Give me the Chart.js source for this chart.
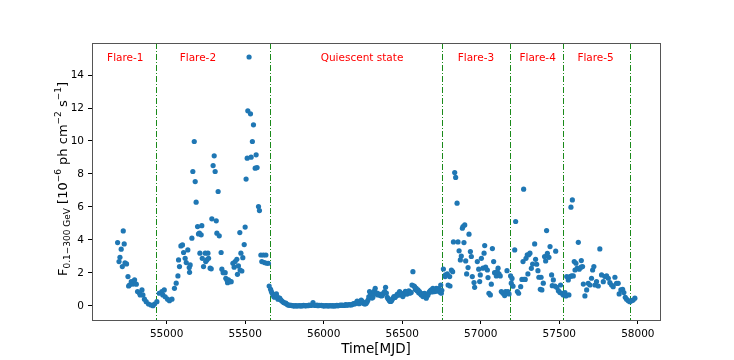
<!DOCTYPE html>
<html>
<head>
<meta charset="utf-8">
<script src="https://cdn.jsdelivr.net/npm/chart.js@4.4.1/dist/chart.umd.min.js"></script>
<style>
  html, body { margin: 0; padding: 0; background: #fff; }
  #wrap { width: 734px; height: 360px; }
</style>
</head>
<body>
<div id="wrap"><canvas id="myChart" width="734" height="360"></canvas></div>
<script>
// light curve (MJD, flux in 1e-6 ph cm^-2 s^-1)
const mjd = [
  54688, 54697, 54703, 54711, 54718, 54724, 54730, 54735, 54745, 54754, 54758, 54764, 54775, 54786, 54796, 54807,
  54815, 54828, 54832, 54843, 54849, 54859, 54870, 54885, 54900, 54913, 54923, 54938,
  54953, 54970, 54976, 54985, 54991, 55006, 55018, 55034, 55050, 55061, 55072, 55076, 55082, 55091, 55101, 55108,
  55118, 55125, 55135, 55144, 55146, 55150, 55161, 55167, 55176, 55182, 55188, 55197, 55203, 55209, 55220, 55224,
  55212, 55227, 55235, 55246, 55249, 55256, 55263, 55267, 55277, 55284, 55288, 55296, 55303, 55309, 55316, 55320,
  55328, 55335, 55347, 55352, 55360, 55373, 55377, 55384, 55388, 55394, 55403, 55411, 55422, 55430, 55436, 55447,
  55451, 55457, 55466, 55468, 55473, 55479, 55485, 55494, 55500, 55506, 55513, 55517, 55525, 55534, 55538, 55546,
  55553, 55564, 55570, 55576, 55585, 55591, 55600, 55606, 55616, 55623, 55632, 55638, 55648, 55653,
  55662, 55667, 55672, 55678, 55683, 55688, 55694, 55699, 55704, 55709, 55715, 55720, 55725, 55731, 55738, 55745,
  55752, 55759, 55766, 55773, 55780, 55787, 55794, 55801, 55808, 55815, 55822, 55829, 55837, 55844, 55851, 55858,
  55865, 55872, 55879, 55886, 55893, 55900, 55907, 55914, 55921, 55928, 55932, 55938, 55943, 55950, 55957, 55964,
  55971, 55978, 55985, 55992, 55999, 56006, 56013, 56020, 56027, 56034, 56041, 56049, 56056, 56063, 56070, 56077,
  56084, 56091, 56098, 56105, 56112, 56119, 56126, 56133, 56140, 56147, 56155, 56162, 56169, 56176, 56183, 56190,
  56197, 56203, 56208, 56213, 56218, 56225, 56232, 56239, 56245, 56250, 56256, 56261, 56266, 56271, 56277, 56282,
  56287, 56292, 56298, 56303, 56308, 56313, 56318, 56323, 56328, 56335, 56340, 56345, 56350, 56356, 56361, 56367,
  56372, 56377, 56383, 56388, 56394, 56399, 56405, 56409, 56413, 56418, 56422, 56426, 56430, 56434, 56440, 56447,
  56454, 56462, 56468, 56473, 56478, 56483, 56488, 56494, 56499, 56504, 56510, 56515, 56520, 56526, 56531, 56536,
  56542, 56547, 56552, 56557, 56562, 56568, 56573, 56579, 56584, 56589, 56594, 56600, 56605, 56610, 56616, 56621,
  56626, 56632, 56637, 56642, 56648, 56653, 56658, 56664, 56669, 56674, 56680, 56685, 56690, 56695, 56700, 56706,
  56711, 56717, 56722, 56727, 56732, 56738, 56743, 56745, 56749, 56752,
  56762, 56773, 56775, 56787, 56792, 56802, 56804, 56813, 56821, 56826, 56834, 56840, 56849, 56855, 56862, 56870,
  56876, 56883, 56887, 56893, 56898, 56904, 56910, 56919, 56925, 56934, 56940, 56946, 56957, 56961, 56978, 56987,
  56993, 56997, 57004, 57014, 57021, 57025, 57031, 57042, 57046, 57052, 57061, 57067, 57074, 57082, 57088, 57099,
  57105, 57110, 57116, 57124, 57131, 57141, 57152, 57158, 57167, 57173, 57180,
  57190, 57194, 57199, 57205, 57216, 57222, 57233, 57241, 57254, 57262, 57269, 57273, 57275, 57283, 57288, 57296,
  57300, 57305, 57313, 57322, 57330, 57343, 57349, 57356, 57364, 57370, 57379, 57384, 57389, 57398, 57406, 57413,
  57419, 57424, 57434, 57441, 57451, 57455, 57462, 57472, 57477, 57483, 57494, 57504, 57508, 57517,
  57525, 57536, 57542, 57547, 57557, 57561, 57568, 57574, 57578, 57583, 57589, 57595, 57600, 57606, 57614, 57621,
  57627, 57638, 57640, 57648, 57653, 57663, 57674, 57684, 57695, 57705, 57712, 57720, 57727, 57737, 57748, 57758,
  57769, 57780, 57790, 57801, 57812, 57822, 57833, 57843, 57854, 57864, 57875, 57881, 57892, 57903, 57911, 57920,
  57928, 57939, 57949, 57960, 57970, 57981
];
const flux = [
  3.84, 2.69, 2.95, 3.44, 2.39, 4.55, 3.76, 2.61, 2.55, 1.78, 1.21, 1.27, 1.47, 1.33, 1.58, 1.32,
  0.87, 0.77, 0.67, 0.97, 0.67, 0.41, 0.26, 0.12, 0.06, 0.02, 0.12, 0.26,
  0.77, 0.87, 0.67, 0.97, 0.56, 0.41, 0.32, 0.41, 1.07, 1.38, 1.82, 2.79, 2.39, 3.64, 3.70, 3.24,
  2.89, 2.63, 3.40, 2.33, 2.04, 2.49, 4.11, 8.15, 9.97, 7.54, 6.29, 4.81, 4.37, 4.41, 4.31, 4.87,
  3.20, 2.89, 2.39, 3.20, 2.69, 2.79, 3.20, 2.89, 2.29, 2.25, 5.28, 8.51, 9.10, 8.15, 5.16, 4.41,
  6.94, 4.25, 3.24, 2.23, 2.02, 2.02, 1.68, 1.58, 1.41, 1.58, 1.47, 1.47, 2.59, 2.35, 2.69, 2.83,
  1.92, 2.43, 4.45, 2.18, 3.20, 2.12, 2.93, 3.72, 4.78, 7.69, 8.96, 11.83, 15.09, 11.65, 9.02, 9.97,
  10.98, 8.35, 9.16, 8.39, 6.03, 5.78, 3.09, 2.69, 3.09, 2.63, 3.09, 2.59, 2.59, 1.21,
  1.01, 0.87, 0.77, 0.67, 0.56, 0.53, 0.67, 0.73, 0.57, 0.41, 0.45, 0.47, 0.38, 0.33, 0.27, 0.21,
  0.18, 0.17, 0.10, 0.06, 0.05, 0.04, 0.04, 0.02, 0.01, 0.00, 0.02, 0.01, 0.00, 0.03, 0.01, 0.00,
  0.02, 0.04, 0.02, 0.01, 0.03, 0.02, 0.05, 0.03, 0.04, 0.08, 0.20, 0.06, 0.04, 0.03, 0.05, 0.02,
  0.04, 0.03, 0.04, 0.02, 0.01, 0.00, 0.03, 0.02, 0.00, 0.01, 0.03, 0.00, 0.02, 0.01, 0.00, 0.02,
  0.04, 0.01, 0.03, 0.05, 0.04, 0.06, 0.03, 0.04, 0.08, 0.05, 0.06, 0.09, 0.07, 0.06, 0.10, 0.14,
  0.12, 0.16, 0.20, 0.30, 0.22, 0.14, 0.18, 0.36, 0.28, 0.24, 0.15, 0.12, 0.14, 0.17, 0.26, 0.36,
  0.55, 0.87, 0.72, 0.61, 0.48, 0.53, 0.78, 0.92, 1.07, 0.73, 0.78, 0.67, 0.72, 0.66, 0.70, 0.61,
  0.64, 0.73, 0.80, 0.87, 1.13, 0.78, 0.53, 0.45, 0.41, 0.33, 0.28, 0.27, 0.30, 0.36, 0.46, 0.57,
  0.52, 0.61, 0.70, 0.73, 0.66, 0.87, 0.79, 0.67, 0.75, 0.57, 0.70, 0.77, 0.88, 0.81, 0.72, 0.87,
  0.92, 0.77, 0.84, 0.81, 1.27, 2.08, 1.22, 1.17, 1.00, 1.07, 0.92, 0.97, 0.80, 0.87, 0.74, 0.67,
  0.75, 0.57, 0.70, 0.77, 0.62, 0.47, 0.60, 0.67, 0.80, 0.87, 0.93, 0.97, 0.85, 1.07, 0.95, 0.87,
  1.00, 1.07, 0.90, 0.97, 1.05, 0.93, 0.82, 1.27, 0.77, 0.95,
  2.24, 1.78, 1.88, 1.94, 1.27, 1.78, 1.21, 2.18, 2.08, 3.88, 8.09, 7.79, 6.23, 3.88, 3.34, 2.79,
  3.03, 4.71, 4.81, 3.84, 4.91, 2.73, 1.94, 2.33, 4.35, 3.30, 3.00, 1.78, 1.42, 1.13, 2.69, 2.23,
  1.48, 1.88, 2.89, 2.29, 3.20, 3.66, 2.35, 2.18, 1.72, 0.77, 0.67, 1.32, 3.48, 2.69, 2.02, 1.82,
  2.08, 2.29, 1.94, 1.82, 0.87, 0.77, 0.63, 0.87, 2.14, 0.87, 0.73,
  1.82, 1.38, 1.67, 1.20, 3.40, 5.12, 0.87, 0.77, 1.17, 1.61, 2.69, 7.08, 1.61, 1.61, 2.89, 3.10,
  1.94, 3.10, 3.20, 2.28, 2.54, 3.76, 2.83, 2.53, 2.14, 1.74, 1.01, 1.74, 0.97, 1.38, 3.00, 2.73,
  4.57, 3.19, 2.95, 3.60, 1.88, 1.23, 1.58, 1.21, 3.32, 1.13, 0.93, 0.81, 1.27, 0.77,
  0.67, 0.81, 0.61, 1.78, 1.58, 0.67, 1.78, 5.99, 1.82, 6.43, 1.82, 2.69, 2.18, 2.59, 2.29, 3.86,
  2.23, 2.35, 2.75, 2.39, 1.33, 0.61, 0.97, 1.37, 1.27, 1.68, 2.18, 2.39, 1.27, 1.48, 1.21, 3.46,
  1.88, 1.47, 1.78, 1.82, 1.68, 1.41, 1.27, 1.17, 1.74, 1.37, 1.37, 0.73, 0.97, 1.01, 0.81, 0.53,
  0.41, 0.32, 0.26, 0.32, 0.36, 0.47
];

// state boundaries (dash-dot lines) and labels
const boundaries = [54932, 55661, 56755, 57184, 57525, 57951];
const stateNames = ["Flare-1", "Flare-2", "Quiescent state", "Flare-3", "Flare-4", "Flare-5"];
const stateLabelX = [54737, 55199, 56244, 56969, 57362, 57731];
const stateLabelY = 15.0;

const xTicks = [55000, 55500, 56000, 56500, 57000, 57500, 58000];
const yTicks = [0, 2, 4, 6, 8, 10, 12, 14];

const FONT = "'DejaVu Sans', sans-serif";

const points = mjd.map((t, i) => ({ x: t, y: flux[i] }));

// draws the frame, the boundaries, texts and the axis titles
const overlay = {
  id: "overlay",
  beforeDatasetsDraw(chart) {
    const { ctx, chartArea: a, scales } = chart;
    ctx.save();
    ctx.strokeStyle = "#1a8a1a";
    ctx.lineWidth = 1;
    ctx.setLineDash([6, 2, 1, 2]);
    boundaries.forEach(b => {
      const x = Math.round(scales.x.getPixelForValue(b)) + 0.5;
      ctx.beginPath();
      ctx.moveTo(x, a.top);
      ctx.lineTo(x, a.bottom);
      ctx.stroke();
    });
    ctx.restore();
  },
  afterDraw(chart) {
    const { ctx, chartArea: a, scales } = chart;
    ctx.save();

    // frame
    ctx.strokeStyle = "#555";
    ctx.lineWidth = 1;
    ctx.strokeRect(Math.round(a.left) + 0.5, Math.round(a.top) + 0.5,
      Math.round(a.right - a.left), Math.round(a.bottom - a.top));

    // state names
    ctx.fillStyle = "#ff0000";
    ctx.font = "10.5px " + FONT;
    ctx.textAlign = "center";
    ctx.textBaseline = "middle";
    stateNames.forEach((s, i) => {
      ctx.fillText(s, scales.x.getPixelForValue(stateLabelX[i]), scales.y.getPixelForValue(stateLabelY));
    });

    // x title
    ctx.fillStyle = "#000";
    ctx.font = "13.5px " + FONT;
    ctx.fillText("Time[MJD]", (a.left + a.right) / 2, 349);

    // y title with sub/superscripts
    const big = "13px " + FONT, small = "9px " + FONT;
    const parts = [
      { t: "F", f: big, dy: 0 },
      { t: "0.1\u2212300 GeV", f: small, dy: 4 },
      { t: " [10", f: big, dy: 0 },
      { t: "\u22126", f: small, dy: -5 },
      { t: " ph cm", f: big, dy: 0 },
      { t: "\u22122", f: small, dy: -5 },
      { t: " s", f: big, dy: 0 },
      { t: "\u22121", f: small, dy: -5 },
      { t: "]", f: big, dy: 0 }
    ];
    let total = 0;
    parts.forEach(p => { ctx.font = p.f; p.w = ctx.measureText(p.t).width; total += p.w; });
    ctx.translate(64, 179);
    ctx.rotate(-Math.PI / 2);
    ctx.textAlign = "left";
    let x = -total / 2;
    parts.forEach(p => {
      ctx.font = p.f;
      ctx.fillText(p.t, x, p.dy);
      x += p.w;
    });
    ctx.restore();
  }
};

new Chart("myChart", {
  type: "scatter",
  data: {
    datasets: [
      {
        label: "flux",
        data: points,
        backgroundColor: "#1f77b4",
        borderColor: "#1f77b4",
        borderWidth: 0,
        pointRadius: 2.6,
        pointHoverRadius: 2.6,
      },
    ],
  },
  options: {
    responsive: false,
    animation: false,
    layout: { padding: { left: 0, top: 43, right: 74, bottom: 0 } },
    plugins: {
      legend: { display: false },
      tooltip: { enabled: false },
    },
    scales: {
      x: {
        type: "linear",
        min: 54525,
        max: 58141,
        afterFit: s => { s.height = 40; },
        afterBuildTicks: s => { s.ticks = xTicks.map(v => ({ value: v })); },
        grid: { drawOnChartArea: false, drawTicks: true, tickLength: 4, color: "#000" },
        border: { display: false },
        ticks: {
          color: "#000",
          padding: 4,
          maxRotation: 0,
          autoSkip: false,
          font: { family: FONT, size: 10.5 },
          callback: v => String(v),
        },
      },
      y: {
        min: -0.85,
        max: 15.94,
        afterFit: s => { s.width = 92; },
        afterBuildTicks: s => { s.ticks = yTicks.map(v => ({ value: v })); },
        grid: { drawOnChartArea: false, drawTicks: true, tickLength: 4, color: "#000" },
        border: { display: false },
        ticks: {
          color: "#000",
          padding: 4,
          autoSkip: false,
          font: { family: FONT, size: 10.5 },
          callback: v => String(v),
        },
      },
    },
  },
  plugins: [overlay],
});
</script>
</body>
</html>
